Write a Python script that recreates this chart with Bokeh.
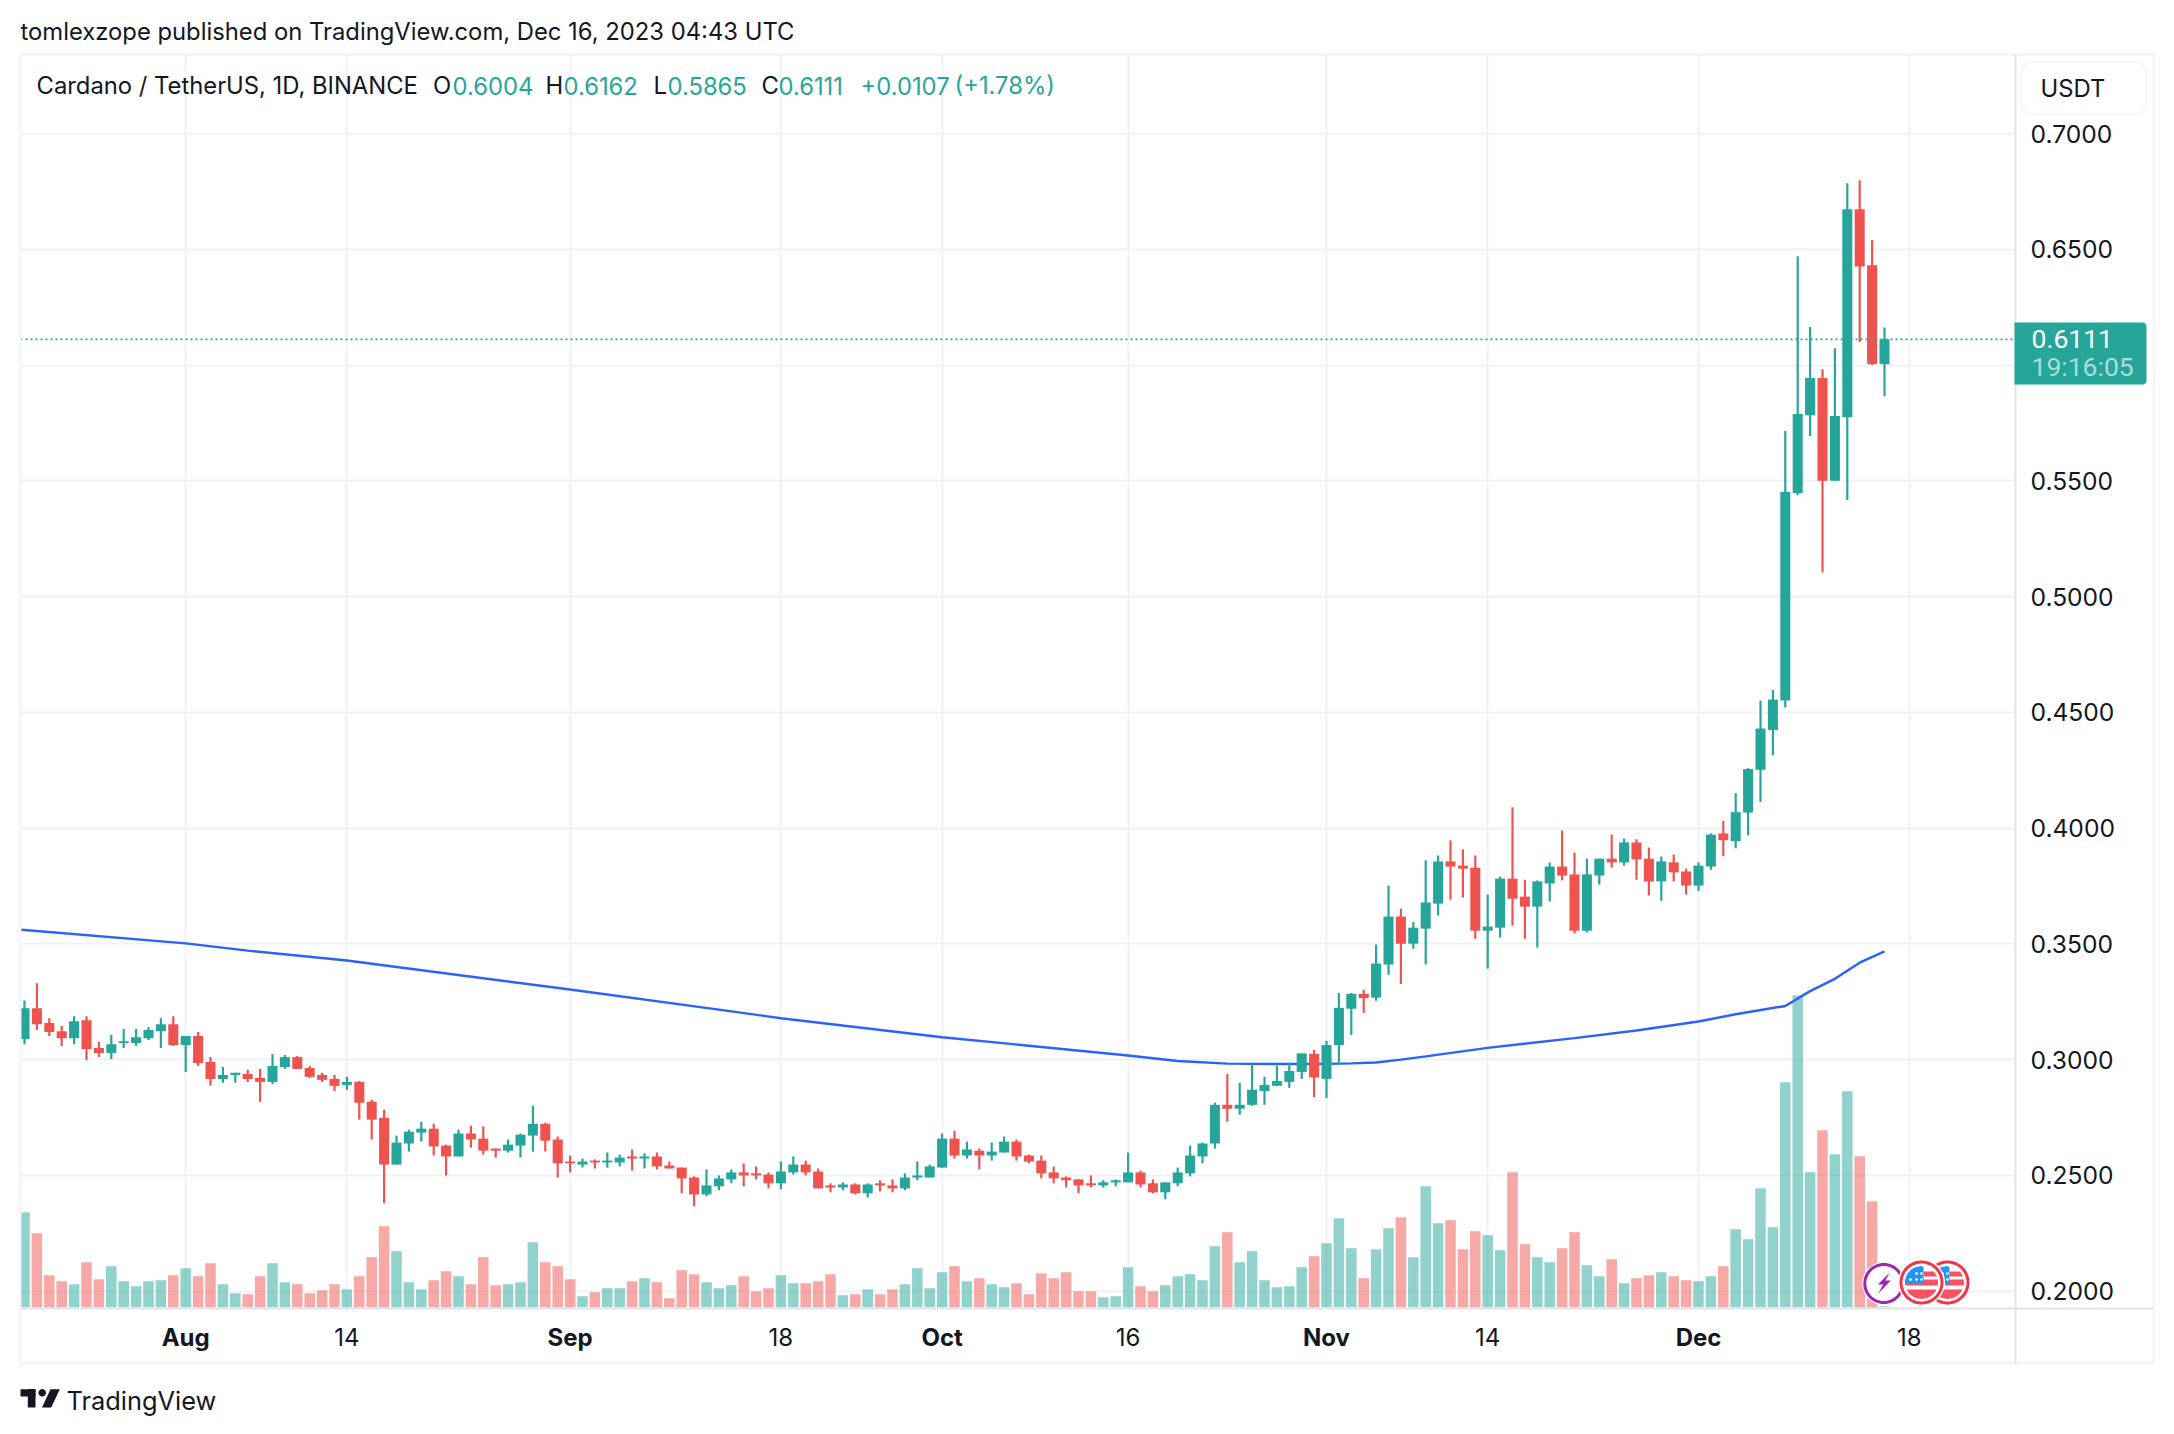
import numpy as np
from bokeh.plotting import figure
from bokeh.layouts import column
from bokeh.embed import file_html
from bokeh.resources import INLINE
from bokeh.models import (ColumnDataSource, Range1d, LinearAxis, FixedTicker, Span, Label)

opens = [
 .3089,.3222,.3158,.3123,.3093,.3170,.3050,.3029,.3072,.3072,
 .3093,.3123,.3153,.3063,.3102,.2990,.2917,.2934,.2938,.2921,
 .2904,.2968,.3011,.2964,.2934,.2917,.2891,.2904,.2818,.2749,
 .2547,.2638,.2685,.2702,.2629,.2582,.2681,.2659,.2616,.2607,
 .2629,.2672,.2723,.2655,.2560,.2547,.2564,.2556,.2556,.2582,
 .2573,.2582,.2543,.2534,.2491,.2418,.2453,.2483,.2513,.2509,
 .2504,.2466,.2513,.2547,.2517,.2457,.2448,.2461,.2423,.2466,
 .2457,.2444,.2491,.2491,.2534,.2659,.2586,.2607,.2586,.2599,
 .2646,.2586,.2564,.2513,.2491,.2483,.2466,.2457,.2470,.2470,
 .2513,.2466,.2427,.2466,.2509,.2582,.2638,.2805,.2788,.2805,
 .2865,.2887,.2904,.2947,.3025,.2917,.3063,.3220,.3284,.3268,
 .3411,.3618,.3501,.3566,.3674,.3856,.3838,.3829,.3557,.3570,
 .3782,.3704,.3661,.3761,.3834,.3800,.3557,.3795,.3868,.3852,
 .3938,.3868,.3770,.3852,.3813,.3752,.3834,.3977,.3944,.4067,
 .4252,.4424,.4551,.5447,.5783,.5944,.5500,.5775,.6673,.6431,.6004]
highs = [
 .3256,.3330,.3179,.3145,.3188,.3188,.3076,.3106,.3132,.3132,
 .3140,.3179,.3188,.3102,.3119,.3011,.2968,.2943,.2956,.2960,
 .3024,.3020,.3016,.2973,.2943,.2934,.2926,.2908,.2827,.2784,
 .2672,.2698,.2732,.2723,.2633,.2698,.2715,.2711,.2616,.2655,
 .2681,.2801,.2728,.2668,.2586,.2573,.2569,.2599,.2590,.2612,
 .2595,.2599,.2560,.2534,.2496,.2526,.2500,.2526,.2552,.2539,
 .2513,.2560,.2582,.2564,.2530,.2466,.2470,.2466,.2466,.2479,
 .2483,.2509,.2560,.2547,.2681,.2693,.2646,.2616,.2642,.2668,
 .2655,.2590,.2586,.2539,.2496,.2483,.2500,.2479,.2483,.2599,
 .2521,.2483,.2470,.2534,.2629,.2642,.2814,.2938,.2900,.2980,
 .2926,.2974,.2987,.3027,.3042,.3081,.3288,.3288,.3302,.3497,
 .3752,.3652,.3595,.3861,.3882,.3947,.3908,.3882,.3713,.3791,
 .4090,.3777,.3774,.3852,.3990,.3895,.3868,.3868,.3972,.3955,
 .3952,.3916,.3877,.3886,.3825,.3852,.3977,.4031,.4151,.4259,
 .4551,.4597,.5715,.6470,.6164,.5982,.6072,.6785,.6798,.6539,.6162]
lows = [
 .3067,.3128,.3102,.3059,.3067,.2999,.3011,.3003,.3050,.3059,
 .3085,.3050,.3059,.2947,.2973,.2887,.2900,.2900,.2904,.2818,
 .2895,.2960,.2960,.2921,.2904,.2865,.2870,.2741,.2655,.2380,
 .2547,.2603,.2646,.2586,.2500,.2582,.2620,.2590,.2577,.2599,
 .2577,.2603,.2603,.2491,.2513,.2534,.2530,.2534,.2539,.2521,
 .2530,.2526,.2530,.2423,.2367,.2410,.2436,.2466,.2453,.2483,
 .2444,.2440,.2504,.2500,.2444,.2427,.2436,.2418,.2405,.2431,
 .2427,.2436,.2479,.2491,.2534,.2573,.2573,.2526,.2564,.2599,
 .2564,.2552,.2487,.2466,.2448,.2423,.2448,.2448,.2453,.2470,
 .2448,.2423,.2397,.2453,.2496,.2552,.2616,.2732,.2762,.2801,
 .2805,.2887,.2878,.2917,.2838,.2834,.2977,.3107,.3202,.3254,
 .3367,.3327,.3479,.3411,.3622,.3691,.3700,.3522,.3393,.3527,
 .3579,.3522,.3484,.3683,.3774,.3545,.3549,.3756,.3829,.3838,
 .3777,.3709,.3686,.3770,.3713,.3729,.3820,.3879,.3913,.3969,
 .4113,.4315,.4521,.5438,.5694,.5104,.5500,.5417,.6100,.6000,.5865]
closes = [
 .3222,.3153,.3119,.3093,.3166,.3046,.3029,.3067,.3080,.3097,
 .3128,.3153,.3063,.3102,.2986,.2917,.2934,.2943,.2917,.2904,
 .2973,.3011,.2960,.2926,.2913,.2887,.2904,.2814,.2741,.2547,
 .2642,.2689,.2702,.2625,.2582,.2681,.2655,.2607,.2607,.2633,
 .2676,.2723,.2650,.2552,.2552,.2560,.2556,.2564,.2577,.2573,
 .2582,.2539,.2530,.2487,.2418,.2457,.2487,.2513,.2500,.2500,
 .2466,.2517,.2547,.2513,.2444,.2448,.2461,.2423,.2461,.2457,
 .2444,.2491,.2500,.2539,.2659,.2586,.2612,.2586,.2603,.2646,
 .2582,.2560,.2509,.2487,.2479,.2457,.2457,.2470,.2479,.2513,
 .2461,.2427,.2470,.2513,.2586,.2638,.2805,.2788,.2805,.2870,
 .2891,.2908,.2951,.3027,.2923,.3063,.3224,.3284,.3266,.3415,
 .3618,.3501,.3570,.3679,.3856,.3834,.3825,.3557,.3575,.3782,
 .3695,.3661,.3770,.3834,.3795,.3557,.3800,.3868,.3852,.3938,
 .3865,.3770,.3856,.3809,.3752,.3838,.3972,.3948,.4069,.4255,
 .4430,.4555,.5452,.5789,.5944,.5500,.5780,.6673,.6426,.6004,.6111]
volumes = [
 95,74,32,26,23,45,28,41,26,21,
 26,27,32,39,31,44,23,14,13,31,
 44,25,23,14,17,23,18,31,50,81,
 56,25,18,27,36,31,23,50,22,23,
 25,65,45,41,28,11,15,19,19,26,
 29,25,9,37,33,25,19,22,31,16,
 19,32,24,24,26,33,12,13,18,13,
 18,23,39,19,35,41,26,29,23,20,
 24,13,34,29,35,16,16,10,11,40,
 21,16,22,31,33,27,61,75,45,56,
 27,20,21,40,51,64,89,59,29,58,
 79,90,50,121,84,87,58,76,72,57,
 135,63,50,45,59,75,42,31,48,24,
 29,32,35,31,27,26,31,41,78,68,
 119,80,225,312,135,177,153,216,151,106,1]

ma_index = [-1,0,13,18,26,44,56,61,74,89,93,97,101,105,107,109,111,113,118,125,130,135,138,142,144,146,148,150]
ma_value = [.3564,.3560,.3502,.3471,.3428,.3303,.3216,.3179,.3097,.3018,.2994,.2983,.2981,.2982,.2984,.2988,
            .3000,.3014,.3051,.3093,.3126,.3165,.3196,.3232,.3296,.3349,.3419,.3468]

price_ticks = [0.20,0.25,0.30,0.35,0.40,0.45,0.50,0.55,0.65,0.70]
grid_price_ticks = [0.20,0.25,0.30,0.35,0.40,0.45,0.50,0.55,0.60,0.65,0.70]
month_ticks = {13:"Aug",44:"Sep",74:"Oct",105:"Nov",135:"Dec"}
day_ticks = {26:"14",61:"18",89:"16",118:"14",152:"18"}
last_price = 0.6111

GREEN, RED = "#26a69a", "#ef5350"
INK = "#131722"
FONT = "Inter"
BORDER = "#f0f3fa"
AXLINE = "#e0e3eb"
GRID = "#f0f1f4"

# pane in page pixels
L, T, R, B = 20, 54, 2015, 1308
W, H = 2170, 1430
xs0, dx = 24.0, 12.4
yref, ppu = 1290.7, 2315.4

p = figure(width=W, height=H, frame_width=R-L, frame_height=B-T,
           min_border_left=L, min_border_top=T, min_border_right=W-R, min_border_bottom=H-B,
           x_range=Range1d((L-xs0)/dx, (R-xs0)/dx),
           y_range=Range1d(0.2+(yref-B)/ppu, 0.2+(yref-T)/ppu),
           y_axis_location="right", output_backend="svg", toolbar_location=None,
           background_fill_color="white", border_fill_color="white", frame_align=False)
p.outline_line_color = None
p.extra_y_ranges = {"vol": Range1d(-1.3, B-T-1.3)}

# axes
ax_m = p.xaxis[0]
ax_m.ticker = FixedTicker(ticks=list(month_ticks))
ax_m.major_label_overrides = month_ticks
ax_d = LinearAxis(ticker=FixedTicker(ticks=list(day_ticks)), major_label_overrides=day_ticks)
p.add_layout(ax_d, "below")
for a in (ax_m, ax_d):
    a.axis_line_color = None
    a.major_tick_line_color = None
    a.minor_tick_line_color = None
    a.major_label_text_font = FONT
    a.major_label_text_font_size = "24px"
    a.major_label_text_color = INK
ax_m.major_label_text_font_style = "bold"
ax_m.major_label_standoff = 8
ax_d.major_label_standoff = -33

ya = p.yaxis[0]
ya.ticker = FixedTicker(ticks=price_ticks)
ya.formatter.use_scientific = False
ya.major_label_overrides = {t: f"{t:.4f}" for t in price_ticks}
ya.axis_line_color = None
ya.major_tick_line_color = None
ya.minor_tick_line_color = None
ya.major_label_text_font = FONT
ya.major_label_text_font_size = "24.6px"
ya.major_label_text_color = INK
ya.major_label_standoff = 9

p.xgrid.ticker = FixedTicker(ticks=list(month_ticks)+list(day_ticks))
p.ygrid.ticker = FixedTicker(ticks=grid_price_ticks)
for g in (p.xgrid, p.ygrid):
    g.grid_line_color = GRID
    g.grid_line_width = 1.8

idx = list(range(len(closes)))
up = [c >= o for o, c in zip(opens, closes)]
src = ColumnDataSource(dict(
    i=idx, open=opens, high=highs, low=lows, close=closes, vol=volumes,
    top=[max(o, c) for o, c in zip(opens, closes)],
    bot=[min(o, c) for o, c in zip(opens, closes)],
    col=[GREEN if u else RED for u in up],
))
p.vbar(x="i", top="vol", bottom=0, width=0.85, fill_color="col", fill_alpha=0.5, line_color=None,
       y_range_name="vol", source=src)
p.line(ma_index, ma_value, line_color="#2962ff", line_width=2.4)
p.segment(x0="i", x1="i", y0="low", y1="high", line_color="col", line_width=2.2, source=src)
p.vbar(x="i", top="top", bottom="bot", width=0.81, fill_color="col", line_color=None, source=src)
p.add_layout(Span(location=last_price, dimension="width", line_color=GREEN, line_width=1.6, line_dash="2 3"))

# transparent layer over the chart, one unit = one page pixel, for the page furniture
ov = figure(width=W, height=H, frame_width=W, frame_height=H,
            min_border_left=0, min_border_right=0, min_border_top=0, min_border_bottom=0,
            x_range=Range1d(0, W), y_range=Range1d(H, 0), x_axis_type=None, y_axis_type=None,
            output_backend="svg", toolbar_location=None, margin=(-H, 0, 0, 0),
            background_fill_alpha=0, border_fill_alpha=0, frame_align=False)
ov.outline_line_color = None
ov.grid.visible = False

def rect(x0, y0, x1, y1, color):
    ov.quad(left=x0, right=x1, top=y0, bottom=y1, fill_color=color, line_color=None)
def poly(px, py, color, line=None, lw=1):
    ov.patch(list(px), list(py), fill_color=color, line_color=line, line_width=lw)
def rrect(x0, y0, x1, y1, radii, color, line=None):
    # rounded rectangle, radii per corner: top-left, top-right, bottom-right, bottom-left
    corners = [(x0, y0, 180), (x1, y0, 270), (x1, y1, 0), (x0, y1, 90)]
    sign = [(1, 1), (-1, 1), (-1, -1), (1, -1)]
    xs, ys = [], []
    for (cx, cy, a), (sx, sy), r in zip(corners, sign, radii):
        t = np.radians(np.linspace(a, a+90, 8))
        xs += list(cx+sx*r+r*np.cos(t)); ys += list(cy+sy*r+r*np.sin(t))
    poly(xs, ys, color, line, 1.4)
def disc(cx, cy, r, color, line=None, lw=1):
    t = np.linspace(0, 2*np.pi, 60, endpoint=False)
    poly(cx+r*np.cos(t), cy+r*np.sin(t), color, line, lw)
def band(cx, cy, r, y0, y1, x0, x1, color):
    # part of a disc between two heights and two x limits
    ys = np.linspace(y0, y1, 14)
    half = np.sqrt(np.maximum(r*r-ys*ys, 0))
    right = np.minimum(half, x1); left = np.maximum(-half, x0)
    poly(list(cx+right)+list(cx+left[::-1]), list(cy+ys)+list(cy+ys[::-1]), color)
def text(x, y, s, color=INK, size="23.8px", style="normal", font=FONT):
    ov.add_layout(Label(x=x, y=y, x_units="canvas", y_units="canvas", text=s, text_color=color,
                        text_font=font, text_font_size=size, text_font_style=style,
                        text_baseline="middle", text_align="left"))

# frame lines
rect(L-1, T-1, 2154, T+1, BORDER)
rect(L-1, T-1, L+1, 1364, BORDER)
rect(2152, T-1, 2154, 1364, BORDER)
rect(L-1, 1362, 2154, 1364, BORDER)
rect(R-1, T, R+1, 1363, AXLINE)
rect(L, B-1, 2153, B+1, AXLINE)

# price tag (fixed-width digits, as in the reference)
rrect(2014, 322, 2146, 384, (0, 4, 4, 0), GREEN)
text(2031, 338.5, f"{last_price:.4f}", "#ffffff", size="26.5px", font="Roboto")
text(2031, 366, "19:16:05", "#a8dcd7", size="26.5px", font="Roboto")

# currency pill
rrect(2021, 62, 2146, 114, (10, 10, 10, 10), "#ffffff", BORDER)
text(2040, 87.5, "USDT")

# header
text(20, 31, "tomlexzope published on TradingView.com, Dec 16, 2023 04:43 UTC")
text(36, 85, "Cardano / TetherUS, 1D, BINANCE")
for x, s in [(432.5, "O"), (545, "H"), (653, "L"), (761, "C")]:
    text(x, 85, s)
for x, s in [(452, "0.6004"), (563, "0.6162"), (667, "0.5865"), (778, "0.6111"), (860, "+0.0107"), (954, "(+1.78%)")]:
    text(x, 85, s, GREEN)

# wordmark
rect(20, 1388.7, 35, 1396, INK)
rect(27.3, 1388.7, 35, 1407, INK)
disc(41.7, 1392.3, 3.7, INK)
poly([50, 59.3, 50.7, 41.5], [1388.7, 1388.7, 1407, 1407], INK)
text(66, 1400, "TradingView", size="25.4px")

# event badges
disc(1883.3, 1283, 21.5, "#ffffff")
disc(1883.3, 1283, 19, "#ffffff", "#9c27b0", 3)
bx, by = 1883.3, 1283
poly([bx+6, bx-6, bx-0.5, bx-6, bx+7, bx+1.5, bx+6],
     [by-11, by+1, by+1, by+10.5, by-3, by-3, by-11], "#9c27b0")
for cx in (1947, 1921):
    cy = 1282
    disc(cx, cy, 23.5, "#ffffff")
    disc(cx, cy, 20.5, "#ffffff", "#f23645", 3)
    band(cx, cy, 16.5, -11, -6, 2, 20, "#f7525f")
    band(cx, cy, 16.5, -3, 3, -20, 20, "#f7525f")
    band(cx, cy, 16.5, 7, 16.5, -20, 20, "#f7525f")
    band(cx, cy, 16.5, -16.5, 1, -20, 2, "#2196f3")
    for sx in (-11, -5, 0):
        for sy in (-9, -3):
            if sx*sx + sy*sy < 170:
                disc(cx+sx, cy+sy, 1.3, "#ffffff")

open("out.html", "w").write(file_html(column(p, ov), INLINE))
